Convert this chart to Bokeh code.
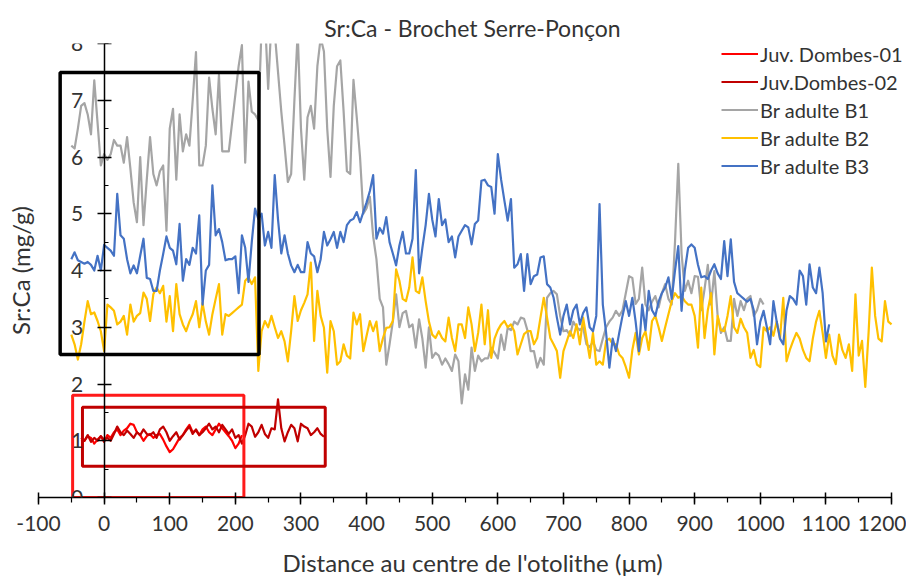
from bokeh.plotting import figure
from bokeh.models import Range1d, SingleIntervalTicker, Title, Legend, LegendItem, CustomJSTickFormatter
from bokeh.embed import file_html
from bokeh.resources import INLINE

STEP = 5  # µm between laser points

# ---- data (Sr:Ca, mg/g) ----
juv01_start = -35
juv01 = [0.98, 1.0, 1.08, 1.05, 0.95, 1.02, 1.08, 0.98, 1.1, 1.05,
         1.15, 1.2, 1.1, 1.18, 1.22, 1.3, 1.28, 1.15, 1.1, 1.0,
         1.08, 1.12, 1.05, 1.1, 1.12, 1.02, 0.9, 0.8, 0.85, 0.95,
         1.05, 1.1, 1.2, 1.28, 1.15, 1.18, 1.1, 1.2, 1.25, 1.15,
         1.1, 1.2, 1.3, 1.22, 1.15, 1.08, 1.0, 0.87, 0.95, 1.1]

juv02_start = -35
juv02 = [1.05, 1.0, 1.1, 0.98, 1.05, 1.0, 1.08, 1.02, 1.05, 1.0,
         1.12, 1.25, 1.15, 1.1, 1.18, 1.12, 1.05, 1.15, 1.1, 1.2,
         1.12, 1.1, 1.15, 1.05, 1.2, 1.25, 1.15, 1.0, 1.08, 1.15,
         1.02, 1.1, 1.18, 1.25, 1.12, 1.2, 1.1, 1.15, 1.22, 1.3,
         1.2, 1.25, 1.15, 1.28, 1.2, 1.12, 1.2, 1.05, 1.1, 0.95,
         1.1, 1.3, 1.25, 1.07, 1.15, 1.28, 1.12, 1.05, 1.22, 1.2,
         1.73, 1.22, 0.99, 1.15, 1.28, 1.22, 0.99, 1.3, 1.25, 1.22,
         1.1, 1.15, 1.22, 1.12, 1.07]

b1_start = -50
b1 = [6.2, 6.15, 6.5, 6.9, 6.95, 6.75, 6.4, 7.35, 6.6, 5.85,
      6.05, 5.95, 6.05, 6.3, 6.2, 6.2, 5.9, 6.35, 5.8, 5.2,
      4.85, 6.0, 4.8, 5.6, 6.35, 5.7, 5.5, 5.75, 5.85, 4.7,
      6.5, 6.85, 5.6, 6.75, 6.1, 6.4, 6.2, 7.0, 7.85, 5.85,
      5.85, 6.2, 7.4, 6.85, 6.4, 7.45, 6.1, 6.1, 6.1, 6.6,
      7.1, 7.6, 7.97, 5.9, 7.33, 6.8, 6.75, 6.65, 8.3, 8.5,
      7.2, 8.4, 8.2, 7.5, 6.8, 6.2, 5.56, 5.7, 7.0, 8.2,
      6.5, 5.6, 6.7, 6.9, 6.5, 7.6, 8.1, 7.86, 6.5, 5.65,
      6.9, 7.6, 7.7, 6.8, 5.75, 5.7, 7.36, 6.7, 6.0, 5.0,
      5.1, 5.3, 4.6, 4.2, 3.5, 3.35, 2.34, 2.7, 3.1, 3.58,
      3.0, 3.25, 3.29, 3.0, 3.05, 2.64, 3.14, 2.8, 2.29, 3.0,
      2.46, 2.55, 2.5, 2.34, 2.45, 2.35, 2.23, 2.52, 2.4, 1.66,
      2.17, 1.9, 2.64, 2.23, 2.5, 2.4, 2.45, 2.45, 2.64, 2.55,
      2.45, 2.87, 2.6, 2.99, 2.95, 3.1, 3.05, 3.17, 3.15, 2.95,
      2.58, 2.58, 2.29, 2.46, 2.34, 3.52, 3.6, 3.64, 3.58, 3.2,
      2.93, 2.95, 2.85, 3.1, 3.0, 2.95, 3.0, 2.7, 2.65, 2.75,
      2.6, 2.58, 2.8, 3.0, 3.1, 3.17, 3.29, 3.2, 3.3, 3.6,
      3.9, 3.87, 3.41, 3.5, 4.05, 3.4, 3.3, 3.45, 3.55, 3.35,
      3.6, 3.76, 3.5, 3.4, 4.5, 5.88, 4.3, 3.64, 3.82, 3.6,
      3.9, 3.89, 3.3, 3.67, 4.1, 3.4, 3.99, 3.2, 2.9, 3.0,
      2.76, 2.76, 3.5, 3.2, 3.46, 3.3, 3.5, 3.55, 3.2, 3.3,
      3.5, 3.4]

b2_start = -50
b2 = [2.87, 2.7, 2.43, 2.7, 3.1, 3.46, 3.23, 3.26, 3.11, 2.93,
      2.58, 3.4, 3.35, 3.29, 3.05, 3.1, 3.2, 2.87, 3.4, 3.1,
      3.2, 3.25, 3.61, 3.5, 3.11, 3.58, 3.7, 3.6, 3.73, 3.1,
      3.55, 2.93, 3.76, 3.23, 3.05, 2.93, 3.1, 3.23, 3.46, 3.0,
      3.43, 3.1, 2.87, 3.23, 3.5, 3.76, 2.87, 3.23, 3.2, 3.25,
      3.3, 3.35, 3.4, 3.82, 3.88, 3.76, 3.88, 2.23, 2.93, 3.11,
      3.0, 3.2, 3.0, 2.81, 2.93, 2.75, 2.4, 2.93, 3.55, 3.11,
      3.3, 3.43, 3.58, 4.14, 2.76, 3.64, 3.2, 2.99, 2.2, 3.11,
      2.93, 2.34, 2.4, 2.7, 2.5, 2.45, 3.26, 3.05, 3.23, 2.58,
      2.85, 3.11, 2.93, 3.1, 2.58, 2.81, 2.99, 3.0, 3.11, 4.02,
      3.82, 3.5, 3.46, 3.7, 4.23, 3.64, 3.6, 3.88, 3.46, 3.1,
      2.87, 2.81, 2.93, 2.81, 2.75, 3.17, 2.81, 2.58, 3.05, 3.05,
      2.81, 3.35, 3.05, 2.58, 2.9, 3.4, 2.7, 3.3, 2.46, 2.8,
      2.95, 3.05, 3.11, 3.0, 3.05, 2.93, 2.52, 2.7, 2.88, 2.93,
      2.93, 2.7, 2.81, 3.17, 3.52, 3.17, 2.81, 2.7, 2.58, 2.11,
      2.58, 2.75, 2.93, 2.81, 3.05, 2.7, 3.17, 2.81, 2.46, 2.9,
      2.34, 2.4, 2.34, 2.76, 2.8, 2.7, 2.7, 2.52, 2.46, 2.3,
      2.11, 2.6, 2.9, 2.52, 2.81, 2.93, 2.6, 3.11, 3.2, 3.0,
      2.76, 3.0, 3.23, 3.46, 3.6, 3.52, 3.55, 3.46, 3.4, 3.4,
      3.2, 2.64, 3.7, 2.81, 3.3, 3.6, 2.52, 3.2, 2.95, 2.93,
      3.2, 3.55, 3.0, 2.9, 3.15, 3.0, 2.9, 2.46, 2.6, 2.34,
      2.3, 3.0, 2.93, 3.0, 2.85, 3.1, 2.8, 3.52, 2.4, 2.6,
      2.76, 2.9, 2.8, 2.6, 2.46, 2.4, 2.8, 3.1, 3.29, 2.9,
      2.46, 2.87, 2.5, 2.35, 2.87, 2.6, 2.46, 2.7, 2.23, 3.58,
      2.5, 2.76, 1.95, 2.9, 4.05, 3.2, 2.8, 2.75, 3.46, 3.1,
      3.05]

b3_start = -50
b3 = [4.2, 4.32, 4.18, 4.15, 4.12, 4.15, 4.1, 4.0, 4.26, 4.0,
      4.45, 4.4, 4.35, 4.26, 5.35, 4.62, 4.56, 4.2, 3.95, 4.09,
      3.95, 4.26, 4.56, 3.87, 3.85, 3.64, 3.64, 4.0, 4.29, 4.6,
      4.4, 4.35, 4.11, 4.82, 3.82, 4.2, 4.1, 4.4, 4.3, 4.97,
      3.4, 4.0, 4.1, 5.5, 4.62, 4.73, 4.5, 4.18, 4.2, 4.2,
      4.25, 3.6, 4.62, 4.4, 3.8, 4.5, 5.09, 4.91, 5.0, 4.44,
      4.68, 4.4, 5.68, 4.9, 4.3, 4.62, 4.3, 4.09, 3.97, 4.1,
      3.97, 3.97, 4.5, 4.3, 4.25, 3.97, 4.2, 4.68, 4.44, 4.55,
      4.68, 4.4, 4.68, 4.5, 4.8, 4.88, 4.91, 5.03, 4.85, 5.03,
      5.2, 5.4, 5.68, 4.56, 4.75, 4.65, 4.94, 4.5, 4.3, 4.09,
      4.44, 4.68, 4.3, 4.3, 4.56, 5.77, 3.95, 4.4, 4.8, 5.35,
      4.9, 4.6, 5.26, 4.8, 4.9, 4.5, 4.6, 4.23, 4.6, 4.7,
      4.8, 4.76, 4.46, 4.82, 4.88, 5.58, 5.6, 5.5, 5.47, 5.0,
      6.05, 5.6, 5.23, 4.88, 5.26, 4.05, 4.11, 4.29, 3.64, 4.29,
      3.76, 3.9, 3.93, 4.23, 4.25, 3.76, 3.7, 3.52, 3.17, 2.87,
      3.2, 3.4, 3.05, 3.3, 3.4, 3.05, 3.25, 3.35, 3.0, 2.93,
      3.2, 5.17, 3.4, 2.9, 2.29, 2.8, 2.58, 2.9, 3.2, 3.46,
      3.2, 3.52, 3.1, 2.58, 3.4, 2.95, 3.64, 3.3, 3.2, 3.45,
      3.6, 3.7, 3.88, 3.5, 4.0, 4.43, 3.29, 4.0, 4.4, 4.46,
      4.4, 4.1, 3.88, 3.9, 3.85, 4.0, 4.11, 3.95, 3.85, 4.52,
      3.9, 4.55, 3.8, 3.6, 3.55, 3.5, 3.45, 3.5, 3.3, 2.7,
      3.1, 3.29, 3.0, 2.7, 3.46, 3.1, 2.8, 2.7, 3.3, 3.55,
      3.5, 3.4, 4.0, 3.9, 3.4, 4.11, 3.7, 3.6, 4.05, 3.6,
      2.75, 3.05]

series_names = ["Juv. Dombes-01", "Juv.Dombes-02", "Br adulte B1", "Br adulte B2", "Br adulte B3"]
series_colors = ["#FF0000", "#C00000", "#A5A5A5", "#FFC000", "#4472C4"]
series_starts = [juv01_start, juv02_start, b1_start, b2_start, b3_start]
series_values = [juv01, juv02, b1, b2, b3]

# highlight boxes drawn on the chart (data units)
box_left = [-67, -48, -33]
box_right = [236, 213, 337]
box_bottom = [2.52, 0.0, 0.55]
box_top = [7.49, 1.8, 1.59]
box_color = ["#000000", "#FF1A1A", "#C00000"]
box_width = [3.5, 3, 3]

FONT = "Lato"
TXT = "#333333"

p = figure(width=906, height=583, x_range=Range1d(-100, 1222.8), y_range=Range1d(0, 8),
           output_backend="svg", toolbar_location=None,
           min_border_left=34, min_border_right=0, min_border_top=43, min_border_bottom=86)
p.grid.visible = False
p.outline_line_color = None

p.title.text = "Sr:Ca - Brochet Serre-Ponçon"
p.title.align = "center"
p.title.text_font = FONT
p.title.text_font_size = "23px"
p.title.text_font_style = "normal"
p.title.text_color = TXT
p.title.standoff = 3

# x axis (ends at 1200, the frame is a bit wider for the legend)
xa = p.xaxis[0]
xa.bounds = (-100, 1200)
xa.ticker = SingleIntervalTicker(interval=100, num_minor_ticks=2)
xa.formatter = CustomJSTickFormatter(code="return String(tick)")
xa.axis_line_color = "#000000"
xa.axis_line_width = 1.5
xa.major_tick_line_color = "#000000"
xa.major_tick_line_width = 1.5
xa.minor_tick_line_color = "#000000"
xa.minor_tick_line_width = 1.2
xa.major_tick_in = 5
xa.major_tick_out = 7
xa.minor_tick_in = 0
xa.minor_tick_out = 5
xa.major_label_text_font = FONT
xa.major_label_text_font_size = "21px"
xa.major_label_text_color = TXT
xa.major_label_standoff = 11
xa.axis_label = "Distance au centre de l'otolithe (µm)"
xa.axis_label_text_font = FONT
xa.axis_label_text_font_size = "24px"
xa.axis_label_text_font_style = "normal"
xa.axis_label_text_color = TXT
xa.axis_label_standoff = 14

# y axis crossing at x = 0
ya = p.yaxis[0]
ya.fixed_location = 0
ya.ticker = SingleIntervalTicker(interval=1, num_minor_ticks=2)
ya.axis_line_color = "#000000"
ya.axis_line_width = 1.5
ya.major_tick_line_color = "#000000"
ya.major_tick_line_width = 1.5
ya.minor_tick_line_color = "#000000"
ya.minor_tick_line_width = 1.2
ya.major_tick_in = 7
ya.major_tick_out = 7
ya.minor_tick_in = 4
ya.minor_tick_out = 0
ya.major_label_text_font = FONT
ya.major_label_text_font_size = "21px"
ya.major_label_text_color = TXT
ya.major_label_standoff = 14

p.add_layout(Title(text="Sr:Ca (mg/g)", align="center", text_font=FONT,
                   text_font_size="24px", text_font_style="normal",
                   text_color=TXT, standoff=7), "left")

items = []
for name, col, start, vals in zip(series_names, series_colors, series_starts, series_values):
    xs = [start + STEP * i for i in range(len(vals))]
    r = p.line(xs, vals, line_color=col, line_width=2.2, line_join="round")
    items.append(LegendItem(label=name, renderers=[r]))

p.quad(left=box_left, right=box_right, bottom=box_bottom, top=box_top,
       fill_alpha=0, line_color=box_color, line_width=box_width)

legend = Legend(items=items, location=(683, 318), padding=0, margin=0, spacing=1,
                glyph_width=37, glyph_height=27, label_height=27, label_standoff=2,
                border_line_color=None, background_fill_alpha=0,
                label_text_font=FONT, label_text_font_size="20px", label_text_color=TXT)
p.add_layout(legend)

open("out.html", "w").write(file_html(p, INLINE))
